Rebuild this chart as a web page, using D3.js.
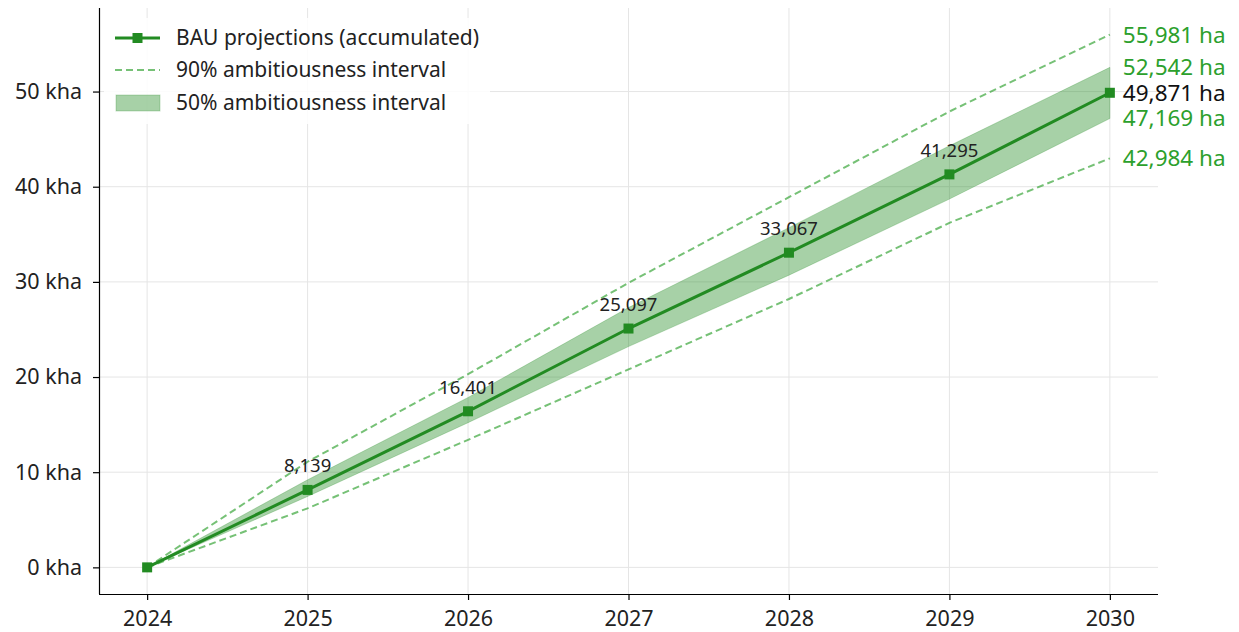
<!DOCTYPE html>
<html>
<head>
<meta charset="utf-8">
<script src="https://cdn.jsdelivr.net/npm/d3@7"></script>
<style>
  html, body { margin: 0; padding: 0; background: #fff; }
  svg { display: block; font-family: "Noto Sans", "Open Sans", sans-serif; }
</style>
</head>
<body>
<svg id="chart" width="1239" height="632"></svg>
<script>
// Accumulated area projections (ha)
const years = [2024, 2025, 2026, 2027, 2028, 2029, 2030];
const bau = [0, 8139, 16401, 25097, 33067, 41295, 49871];
const p50Low = [0, 7450, 15200, 23200, 30700, 38700, 47169];
const p50High = [0, 9200, 17850, 27300, 35700, 44300, 52542];
const p90Low = [0, 6200, 13400, 20800, 28200, 36200, 42984];
const p90High = [0, 11100, 20300, 29900, 38900, 47900, 55981];
const yTicks = [0, 10000, 20000, 30000, 40000, 50000];
const legendLabels = ["BAU projections (accumulated)", "90% ambitiousness interval", "50% ambitiousness interval"];

const green = "#228b22";
const lightGreen = "#2ca02c";
const fmt = d3.format(",");

const svg = d3.select("#chart");
const plot = { left: 99, right: 1158, top: 8, bottom: 594 };

// matplotlib-style 5% margins around the data
const xPad = (years[years.length - 1] - years[0]) * 0.05;
const yMax = d3.max(p90High), yPad = yMax * 0.05;
const x = d3.scaleLinear()
  .domain([years[0] - xPad, years[years.length - 1] + xPad])
  .range([plot.left, plot.right]);
const y = d3.scaleLinear()
  .domain([-yPad, yMax + yPad])
  .range([plot.bottom, plot.top]);

// Grid
const grid = svg.append("g").attr("stroke", "#e5e5e5").attr("stroke-width", 1);
grid.selectAll(".gx").data(years).join("line")
  .attr("x1", d => x(d)).attr("x2", d => x(d))
  .attr("y1", plot.top).attr("y2", plot.bottom);
grid.selectAll(".gy").data(yTicks).join("line")
  .attr("x1", plot.left).attr("x2", plot.right)
  .attr("y1", d => y(d)).attr("y2", d => y(d));

const rows = years.map((yr, i) => ({
  yr, bau: bau[i], lo50: p50Low[i], hi50: p50High[i], lo90: p90Low[i], hi90: p90High[i]
}));

// 50% band
svg.append("path").datum(rows)
  .attr("d", d3.area().x(d => x(d.yr)).y0(d => y(d.lo50)).y1(d => y(d.hi50)))
  .attr("fill", green).attr("fill-opacity", 0.4)
  .attr("stroke", green).attr("stroke-opacity", 0.25).attr("stroke-width", 1);

// 90% bounds
const dashLine = key => d3.line().x(d => x(d.yr)).y(d => y(d[key]));
["lo90", "hi90"].forEach(k => {
  svg.append("path").datum(rows)
    .attr("d", dashLine(k))
    .attr("fill", "none").attr("stroke", lightGreen).attr("stroke-opacity", 0.65)
    .attr("stroke-width", 2).attr("stroke-dasharray", "7,4");
});

// BAU line with markers
svg.append("path").datum(rows)
  .attr("d", dashLine("bau"))
  .attr("fill", "none").attr("stroke", green).attr("stroke-width", 3);
svg.selectAll(".mk").data(rows).join("rect")
  .attr("x", d => x(d.yr) - 5).attr("y", d => y(d.bau) - 5)
  .attr("width", 10).attr("height", 10).attr("fill", green);

// Value labels above intermediate markers
svg.selectAll(".vl").data(rows.slice(1, -1)).join("text")
  .attr("x", d => x(d.yr)).attr("y", d => y(d.bau) - 24)
  .attr("dy", "0.35em")
  .attr("text-anchor", "middle").attr("font-size", 18.5).attr("fill", "#222")
  .text(d => fmt(d.bau));

// End labels
const last = rows[rows.length - 1];
const ends = [
  { v: last.hi90, c: lightGreen },
  { v: last.hi50, c: lightGreen },
  { v: last.bau, c: "#111" },
  { v: last.lo50, c: lightGreen },
  { v: last.lo90, c: lightGreen }
];
svg.selectAll(".el").data(ends).join("text")
  .attr("x", x(last.yr) + 13).attr("y", d => y(d.v))
  .attr("dy", "0.35em").attr("font-size", 22.5).attr("fill", d => d.c)
  .text(d => fmt(d.v) + " ha");

// Axes
const xAxis = d3.axisBottom(x).tickValues(years).tickFormat(d3.format("d")).tickSize(6).tickPadding(11);
const yAxis = d3.axisLeft(y).tickValues(yTicks).tickFormat(d => (d / 1000) + " kha").tickSize(6).tickPadding(11);
const gx = svg.append("g").attr("transform", `translate(0,${plot.bottom})`).call(xAxis);
const gy = svg.append("g").attr("transform", `translate(${plot.left},0)`).call(yAxis);
[gx, gy].forEach(g => {
  g.select(".domain").attr("stroke", "#000").attr("stroke-width", 1.2);
  g.selectAll(".tick line").attr("stroke", "#000").attr("stroke-width", 1.2);
  g.selectAll(".tick text").attr("font-size", 21.5).attr("fill", "#222")
    .attr("font-family", "'Noto Sans', 'Open Sans', sans-serif");
});
gx.select(".domain").attr("d", `M${plot.left},0.5H${plot.right}`);
gy.select(".domain").attr("d", `M0.5,${plot.top}V${plot.bottom}`);

// Legend
const lg = svg.append("g");
lg.append("rect").attr("x", 104).attr("y", 18).attr("width", 386).attr("height", 106)
  .attr("fill", "#fff").attr("fill-opacity", 0.85).attr("rx", 3);
const ly = [38, 70, 103];
lg.append("line").attr("x1", 115).attr("x2", 160).attr("y1", ly[0]).attr("y2", ly[0])
  .attr("stroke", green).attr("stroke-width", 3);
lg.append("rect").attr("x", 132.5).attr("y", ly[0] - 5).attr("width", 10).attr("height", 10).attr("fill", green);
lg.append("line").attr("x1", 115).attr("x2", 160).attr("y1", ly[1]).attr("y2", ly[1])
  .attr("stroke", lightGreen).attr("stroke-opacity", 0.65).attr("stroke-width", 2)
  .attr("stroke-dasharray", "7,4");
lg.append("rect").attr("x", 116).attr("y", ly[2] - 8).attr("width", 44).attr("height", 16)
  .attr("fill", green).attr("fill-opacity", 0.4)
  .attr("stroke", green).attr("stroke-opacity", 0.25);
lg.selectAll(".lt").data(legendLabels).join("text")
  .attr("x", 176).attr("y", (d, i) => ly[i]).attr("dy", "0.35em")
  .attr("font-size", 21).attr("fill", "#222").text(d => d);
</script>
</body>
</html>
